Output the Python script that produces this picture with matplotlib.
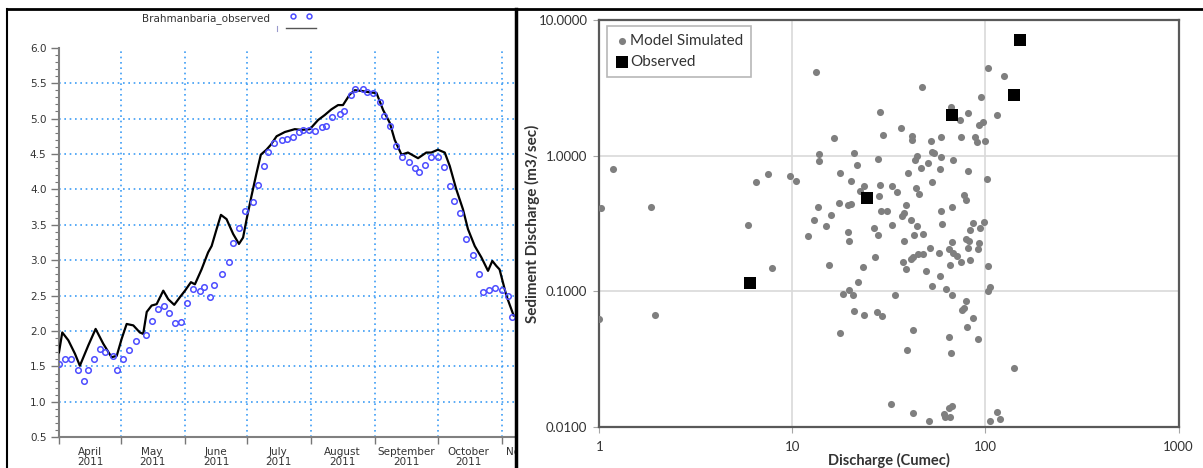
import numpy as np
import matplotlib
matplotlib.use("Agg")
import matplotlib.pyplot as plt
import matplotlib.dates as mdates
from matplotlib.lines import Line2D
from matplotlib.ticker import MultipleLocator, FixedLocator, NullLocator

W, H = 1203, 468
START = np.datetime64("2011-04-01T00")

# ---- left panel: water level at Brahmanbaria (days counted from 1 April 2011)
obs_day = [0, 3, 6, 9, 12, 14, 17, 20, 22, 26, 28, 31, 34, 37, 42, 45, 48, 51,
           53, 56, 59, 62, 65, 68, 70, 73, 75, 79, 82, 84, 87, 90, 94, 96, 99,
           101, 104, 108, 110, 113, 116, 118, 121, 124, 127, 129, 132, 136,
           138, 141, 143, 147, 149, 152, 155, 157, 160, 163, 166, 169, 172,
           174, 177, 180, 183, 186, 189, 191, 194, 197, 200, 203, 205, 208,
           211, 214, 217, 219]
obs_level = [1.53, 1.60, 1.60, 1.45, 1.29, 1.45, 1.60, 1.75, 1.70, 1.65, 1.45,
             1.60, 1.73, 1.86, 1.95, 2.14, 2.31, 2.35, 2.25, 2.12, 2.13, 2.40,
             2.59, 2.57, 2.62, 2.48, 2.65, 2.80, 2.98, 3.25, 3.46, 3.70, 3.82,
             4.06, 4.33, 4.53, 4.66, 4.69, 4.71, 4.74, 4.81, 4.84, 4.84, 4.83,
             4.88, 4.90, 5.02, 5.06, 5.10, 5.33, 5.41, 5.41, 5.38, 5.36, 5.23,
             5.03, 4.90, 4.61, 4.46, 4.38, 4.30, 4.24, 4.35, 4.45, 4.45, 4.31,
             4.05, 3.83, 3.66, 3.30, 3.08, 2.80, 2.55, 2.58, 2.61, 2.58, 2.50,
             2.20]

sim_day = [0, 1.6, 4.5, 7.7, 10.1, 14.2, 17.7, 21.4, 25.4, 27.9, 30.3, 32.7,
           35.9, 39.1, 40.7, 42.4, 44.8, 47.2, 50.4, 52.8, 55.7, 58.5, 60.9,
           63.8, 65.7, 68.9, 72.1, 73.8, 76.2, 78.3, 81.0, 84.2, 87.0, 89.0,
           90.7, 93.1, 95.5, 97.6, 100.3, 102.4, 105.2, 109.2, 114.0, 117.2,
           121.3, 125.3, 128.5, 131.7, 134.9, 137.3, 140.6, 143.0, 146.2,
           150.2, 153.5, 156.7, 159.9, 162.3, 165.6, 168.7, 173.6, 177.6,
           180.0, 183.2, 186.5, 188.9, 192.1, 195.3, 197.7, 201.0, 204.2,
           207.4, 209.5, 211.4, 213.0, 216.3, 219.8]
sim_level = [1.70, 1.98, 1.87, 1.68, 1.51, 1.80, 2.03, 1.82, 1.63, 1.65, 1.89,
             2.10, 2.08, 1.98, 1.96, 2.27, 2.36, 2.38, 2.57, 2.45, 2.37, 2.48,
             2.57, 2.69, 2.66, 2.87, 3.11, 3.20, 3.44, 3.64, 3.58, 3.37, 3.23,
             3.32, 3.58, 3.91, 4.23, 4.49, 4.56, 4.63, 4.75, 4.81, 4.85, 4.84,
             4.85, 4.98, 5.05, 5.13, 5.19, 5.19, 5.34, 5.40, 5.39, 5.37, 5.36,
             5.12, 4.94, 4.70, 4.49, 4.52, 4.44, 4.52, 4.52, 4.56, 4.52, 4.33,
             4.00, 3.72, 3.44, 3.20, 3.04, 2.85, 2.99, 2.92, 2.87, 2.50, 2.22]

month_names = ["April", "May", "June", "July", "August", "September",
               "October", "November"]
month_starts = ["2011-04-01", "2011-05-01", "2011-06-01", "2011-07-01",
                "2011-08-01", "2011-09-01", "2011-10-01", "2011-11-01",
                "2011-12-01"]

# ---- right panel: sediment rating scatter
sim_q = [1.02, 1.0, 1.18, 1.85, 1.94, 6.5, 7.46, 9.7, 10.4, 5.9, 7.8,
         13.3, 47, 28.5, 66.5, 36.6, 29.5, 16.5, 41.7, 41.7, 58.6, 52.2, 74.5,
         13.7, 13.7, 20.8, 21.6, 27.7, 17.7, 20.1, 23.6, 28.3, 32.8, 35, 22.4,
         28, 39.6, 43, 44.4, 46.4, 50.3, 52.9, 54.4, 59.1, 58.4, 67.6, 52.7,
         43.6, 45.5, 13.6, 17.5, 19.4, 20.0, 15.8, 13.0, 15.0, 12.0, 28.9, 31,
         36.8, 37.7, 38.6, 32.9, 26.5, 27.8, 19.4, 19.7, 41, 44, 42.7, 47.2,
         37.9, 58.9, 67, 59.6, 67.4, 15.5, 26.7, 23.1, 37.5, 38.8, 41, 41.9,
         44.8, 47.7, 51.9, 57.3, 64.5, 67.6, 65.2, 49.3, 58.1, 21.8, 52.7,
         62.4, 67, 18.3, 19.6, 20.6, 33.8, 20.9, 23.5, 27.4, 29.2, 17.6, 42.2,
         39.2, 64.7, 66.6, 32.5, 42.2, 50.8, 61.2, 64.7, 67, 65.2, 61.5,
         103, 124, 94.9, 115, 81, 73.6, 93, 96.5, 88, 90.9, 100, 81, 102,
         77.5, 79, 85.7, 83.6, 93.8, 98.8, 78.8, 82, 92, 81.3, 91.2, 71.6,
         74.5, 83.2, 103, 103, 106, 79, 76, 77.8, 85.7, 80, 91.2, 140, 115,
         119, 106]
sim_qs = [0.41, 0.062, 0.79, 0.42, 0.067, 0.64, 0.73, 0.71, 0.65, 0.31, 0.147,
          4.14, 3.22, 2.11, 2.29, 1.61, 1.42, 1.35, 1.40, 1.31, 1.36, 1.27,
          1.36, 1.03, 0.91, 1.05, 0.85, 0.95, 0.745, 0.647, 0.60, 0.61, 0.60,
          0.54, 0.55, 0.50, 0.745, 0.93, 1.0, 0.81, 0.88, 1.06, 1.05, 0.97,
          0.80, 0.93, 0.64, 0.58, 0.525, 0.42, 0.445, 0.43, 0.437, 0.367,
          0.337, 0.30, 0.257, 0.387, 0.39, 0.36, 0.378, 0.43, 0.305, 0.29,
          0.26, 0.272, 0.235, 0.336, 0.30, 0.26, 0.262, 0.233, 0.39, 0.416,
          0.315, 0.232, 0.156, 0.18, 0.15, 0.165, 0.145, 0.174, 0.179, 0.187,
          0.189, 0.209, 0.19, 0.203, 0.19, 0.155, 0.14, 0.13, 0.116, 0.11,
          0.103, 0.094, 0.095, 0.102, 0.093, 0.094, 0.071, 0.067, 0.070,
          0.065, 0.049, 0.052, 0.037, 0.046, 0.035, 0.0148, 0.0127, 0.0111,
          0.0125, 0.0137, 0.0142, 0.0117, 0.0118,
          4.46, 3.85, 2.71, 1.99, 2.05, 1.82, 1.69, 1.78, 1.36, 1.25, 1.28,
          0.77, 0.67, 0.513, 0.47, 0.32, 0.283, 0.291, 0.324, 0.241, 0.236,
          0.228, 0.207, 0.204, 0.182, 0.165, 0.17, 0.152, 0.10, 0.108, 0.085,
          0.073, 0.075, 0.063, 0.054, 0.044, 0.0272, 0.0129, 0.0114, 0.0111]
obs_q = [6.0, 24.2, 67, 140, 151]
obs_qs = [0.114, 0.485, 2.0, 2.8, 7.06]


def to_dates(days):
    return START + (np.array(days) * 24).round().astype("timedelta64[h]")


def main():
    fig = plt.figure(figsize=(W / 100, H / 100), dpi=100)

    # ---------------- left panel ----------------
    # the axes runs on under the right panel, which hides its end (as in the source)
    ax1 = fig.add_axes([59 / W, (H - 437.3) / H, 484 / W, 389.6 / H])
    ax1.plot(to_dates(sim_day), sim_level, color="black", lw=1.6, zorder=3)
    ax1.plot(to_dates(obs_day), obs_level, ls="none", marker="o", ms=4,
             mfc="none", mec="#4d4dff", mew=1.1, zorder=4)

    ax1.set_xlim(START, START + np.timedelta64(234 * 24, "h"))
    ax1.set_ylim(0.5, 6.0)

    ax1.yaxis.set_major_locator(FixedLocator(np.arange(0.5, 6.01, 0.5)))
    ax1.yaxis.set_minor_locator(MultipleLocator(0.1))
    ax1.yaxis.set_major_formatter(plt.FormatStrFormatter("%.1f"))

    starts = [mdates.date2num(np.datetime64(m)) for m in month_starts]
    mids = [mdates.date2num(np.datetime64(m) + np.timedelta64(15, "D"))
            for m in month_starts[:-1]]
    ax1.xaxis.set_major_locator(FixedLocator(starts))
    ax1.xaxis.set_major_formatter(plt.NullFormatter())
    ax1.xaxis.set_minor_locator(FixedLocator(mids))
    ax1.xaxis.set_minor_formatter(
        plt.FixedFormatter([f"{m}\n2011" for m in month_names]))

    ax1.tick_params(axis="y", which="major", length=6, width=1, color="#777",
                    labelsize=7.5, labelcolor="#333", pad=3)
    ax1.tick_params(axis="y", which="minor", length=3, width=0.8, color="#777")
    ax1.tick_params(axis="x", which="major", length=5, width=1, color="#777")
    ax1.tick_params(axis="x", which="minor", length=0, labelsize=7.5,
                    labelcolor="#333", pad=7)
    for lab in ax1.xaxis.get_minorticklabels():
        lab.set_linespacing(1.05)

    for s in ["top", "right"]:
        ax1.spines[s].set_visible(False)
    for s in ["left", "bottom"]:
        ax1.spines[s].set_color("#808080")
        ax1.spines[s].set_linewidth(1.5)

    ax1.grid(True, which="major", color="#3d9df5", ls=(0, (1, 2.2)), lw=1.2)
    ygl = ax1.get_ygridlines()
    ygl[0].set_visible(False)
    ygl[-1].set_visible(False)

    # odd legend at the top of the left panel
    fig.text(142 / W, 1 - 19 / H, "Brahmanbaria_observed", fontsize=7.5,
             color="#333", va="center", ha="left")
    fig.add_artist(Line2D([293 / W, 309 / W], [1 - 16 / H] * 2, ls="none",
                          marker="o", ms=3.5, mfc="none", mec="#4d4dff",
                          mew=1.1))
    fig.add_artist(Line2D([286 / W, 316 / W], [1 - 28 / H] * 2,
                          color="#555", lw=1))
    fig.add_artist(Line2D([277 / W] * 2, [1 - 26 / H, 1 - 31 / H],
                          color="#99c", lw=0.8))

    # ---------------- right panel ----------------
    pan = fig.add_axes([516 / W, 0, 1 - 516 / W, 1])
    pan.set_facecolor("white")
    pan.set_xticks([])
    pan.set_yticks([])
    for s in pan.spines.values():
        s.set_visible(False)

    ax2 = fig.add_axes([599.3 / W, (H - 426.7) / H, 579.3 / W, 406.7 / H])
    ax2.set_xscale("log")
    ax2.set_yscale("log")
    ax2.scatter(sim_q, sim_qs, s=26, color="#7f7f7f", lw=0, zorder=3,
                label="Model Simulated")
    ax2.scatter(obs_q, obs_qs, s=80, marker="s", color="black", lw=0,
                zorder=4, label="Observed")
    ax2.set_xlim(1, 1000)
    ax2.set_ylim(0.01, 10)
    ax2.xaxis.set_major_locator(FixedLocator([1, 10, 100, 1000]))
    ax2.xaxis.set_major_formatter(plt.FixedFormatter(["1", "10", "100", "1000"]))
    ax2.yaxis.set_major_locator(FixedLocator([0.01, 0.1, 1, 10]))
    ax2.yaxis.set_major_formatter(
        plt.FixedFormatter(["0.0100", "0.1000", "1.0000", "10.0000"]))
    ax2.xaxis.set_minor_locator(NullLocator())
    ax2.yaxis.set_minor_locator(NullLocator())
    ax2.tick_params(length=4.5, color="#a6a6a6", labelsize=9.5,
                    labelcolor="#333", labelfontfamily="Lato", pad=4)
    ax2.tick_params(axis="x", pad=6)
    ax2.grid(True, color="#d9d9d9", lw=1.2)
    ax2.set_axisbelow(True)
    for s in ax2.spines.values():
        s.set_color("#595959")
        s.set_linewidth(1.6)

    ax2.set_xlabel("Discharge (Cumec)", fontsize=10.5, fontweight="bold",
                   family="Lato", color="#333", labelpad=0)
    ax2.set_ylabel("Sediment Discharge (m3/sec)", fontsize=11,
                   fontweight="bold", family="Lato", color="#333")
    ax2.yaxis.set_label_coords(-0.103, 0.5)

    leg = ax2.legend(loc="upper left", bbox_to_anchor=(0.0133, 0.985),
                     borderaxespad=0, fancybox=False, edgecolor="#a6a6a6",
                     prop={"family": "Lato", "size": 11}, handletextpad=0.1,
                     handlelength=0.9, borderpad=0.5, labelspacing=0.5,
                     scatterpoints=1, labelcolor="#333")
    leg.get_frame().set_linewidth(1.2)

    # panel borders
    fig.add_artist(Line2D([516 / W] * 2, [0, 1 - 8.5 / H], color="black", lw=2.5))
    fig.add_artist(Line2D([7 / W, 1], [1 - 8.5 / H] * 2, color="black", lw=2))
    fig.add_artist(Line2D([7 / W] * 2, [0, 1 - 8.5 / H], color="black", lw=1.5))

    fig.savefig("out.png", dpi=100)


if __name__ == "__main__":
    main()
